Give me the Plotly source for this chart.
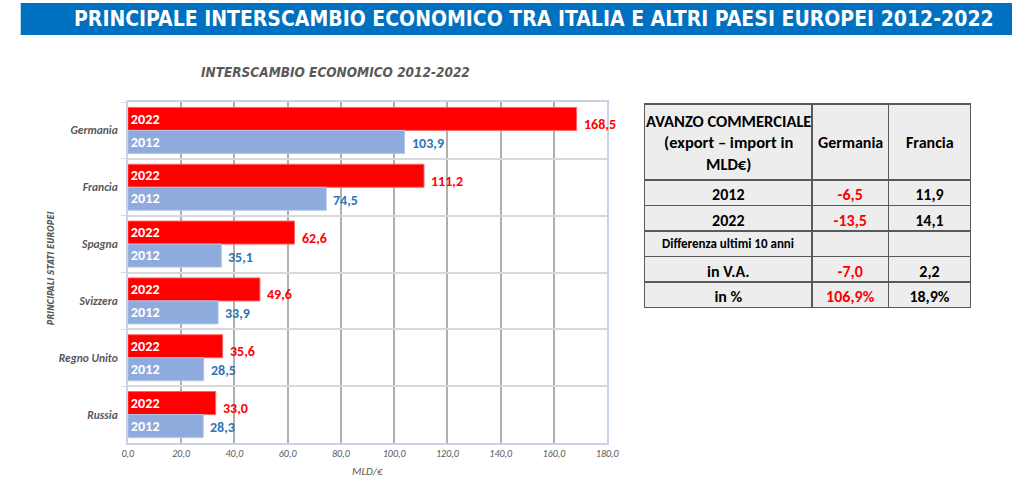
import plotly.graph_objects as go

# dati del grafico (miliardi di euro)
paesi       = ["Germania", "Francia", "Spagna", "Svizzera", "Regno Unito", "Russia"]
valori_2022 = [168.5, 111.2, 62.6, 49.6, 35.6, 33.0]
valori_2012 = [103.9, 74.5, 35.1, 33.9, 28.5, 28.3]
anni        = ["2022", "2012"]
x_ticks     = [0, 20, 40, 60, 80, 100, 120, 140, 160, 180]

# tabella avanzo commerciale
intestazione = ["AVANZO COMMERCIALE<br>(export – import in<br>MLD€)", "Germania", "Francia"]
righe_tab    = ["2012", "2022", "Differenza ultimi 10 anni", "in V.A.", "in %"]
germania_tab = [-6.5, -13.5, None, -7.0, 106.9]
francia_tab  = [11.9, 14.1, None, 2.2, 18.9]
pct_riga     = 4
riga_piccola = 2

NARROW  = "Liberation Sans Narrow, DejaVu Sans Condensed, Arial Narrow, sans-serif"
BODY    = "Carlito, Lato, Open Sans, sans-serif"
ROSSO   = "#FF0000"
AZZURRO = "#8FAADC"
BLU_TXT = "#2E75B6"
GRIGIO  = "#595959"

# geometria tabella (pixel)
TAB_TOP   = 104
HEAD_H    = 76
ROW_H     = 25.5
TAB_X0    = 650
TAB_X1    = 982
COL_W     = [167, 76, 82]


def fmt(v, i):
    if v is None:
        return ""
    s = f"{v:.1f}".replace(".", ",")
    return s + "%" if i == pct_riga else s


fig = go.Figure()

for anno, valori, colore, linea in [
    ("2022", valori_2022, ROSSO,   "#FF6666"),
    ("2012", valori_2012, AZZURRO, "#B4C7E7"),
]:
    fig.add_trace(
        go.Bar(
            y                = paesi,
            x                = valori,
            orientation      = "h",
            name             = anno,
            marker           = {"color": colore, "line": {"color": linea, "width": 1}},
            text             = [anno] * len(paesi),
            textposition     = "inside",
            insidetextanchor = "start",
            textangle        = 0,
            textfont         = {"family": BODY, "size": 15, "color": "white", "weight": "bold"},
            hoverinfo        = "x+name",
        )
    )

# etichette valori fuori dalle barre
for paese, v22, v12 in zip(paesi, valori_2022, valori_2012):
    for v, colore, dy in [(v22, ROSSO, 6), (v12, BLU_TXT, -13)]:
        fig.add_annotation(
            x         = v,
            y         = paese,
            xref      = "x",
            yref      = "y",
            text      = fmt(v, 0),
            showarrow = False,
            xanchor   = "left",
            yanchor   = "middle",
            xshift    = 5,
            yshift    = dy,
            font      = {"family": BODY, "size": 14, "color": colore, "weight": "bold"},
        )

# tabella
colore_germ = [ROSSO] * len(righe_tab)
colore_nero = ["black"] * len(righe_tab)

fig.add_trace(
    go.Table(
        domain      = {
            "x": [TAB_X0 / 1024, TAB_X1 / 1024],
            "y": [0.2, (488 - TAB_TOP) / 488],
        },
        columnwidth = COL_W,
        header      = {
            "values": ["", "", ""],
            "height": HEAD_H,
            "fill":   {"color": "#EDEDED"},
            "line":   {"color": GRIGIO, "width": 1.5},
        },
        cells       = {
            "values": [
                ["" if i == riga_piccola else r for i, r in enumerate(righe_tab)],
                [fmt(v, i) for i, v in enumerate(germania_tab)],
                [fmt(v, i) for i, v in enumerate(francia_tab)],
            ],
            "align":  "center",
            "height": ROW_H,
            "fill":   {"color": "#EDEDED"},
            "line":   {"color": GRIGIO, "width": 1.5},
            "font":   {
                "family": BODY,
                "size":   16,
                "color":  [colore_nero, colore_germ, colore_nero],
                "weight": "bold",
            },
        },
    )
)

# intestazioni e riga "Differenza" centrate riga per riga
scala      = (TAB_X1 - TAB_X0) / sum(COL_W)
centri_col = []
x_cur = TAB_X0
for w in COL_W:
    centri_col.append(x_cur + w * scala / 2)
    x_cur += w * scala

testi_tab = [
    (intestazione[0], centri_col[0], TAB_TOP + HEAD_H / 2, 16.5),
    (intestazione[1], centri_col[1], TAB_TOP + HEAD_H / 2, 16),
    (intestazione[2], centri_col[2], TAB_TOP + HEAD_H / 2, 16),
    (righe_tab[riga_piccola], centri_col[0], TAB_TOP + HEAD_H + (riga_piccola + 0.5) * ROW_H, 13),
]
for testo, x_px, y_px, size in testi_tab:
    fig.add_annotation(
        x         = x_px / 1024,
        y         = (488 - y_px) / 488,
        xref      = "paper",
        yref      = "paper",
        xanchor   = "center",
        yanchor   = "middle",
        align     = "center",
        text      = testo,
        showarrow = False,
        font      = {"family": BODY, "size": size, "color": "black", "weight": "bold"},
    )

# intestazione blu
fig.add_shape(
    type      = "rect",
    xref      = "paper",
    yref      = "paper",
    x0        = 15 / 1024,
    x1        = 1,
    y0        = (488 - 35) / 488,
    y1        = (488 - 3) / 488,
    fillcolor = "#0070C0",
    line      = {"width": 0},
    layer     = "below",
)

for testo, x, y, font, angolo in [
    (
        "PRINCIPALE INTERSCAMBIO ECONOMICO TRA ITALIA E ALTRI PAESI EUROPEI 2012-2022",
        537 / 1024, (488 - 19) / 488,
        {"family": NARROW, "size": 21, "color": "white", "weight": "bold"}, 0,
    ),
    (
        "INTERSCAMBIO ECONOMICO 2012-2022",
        335 / 1024, (488 - 72) / 488,
        {"family": NARROW, "size": 13.5, "color": GRIGIO, "weight": "bold", "style": "italic"}, 0,
    ),
    (
        "PRINCIPALI STATI EUROPEI",
        46 / 1024, (488 - 268) / 488,
        {"family": NARROW, "size": 8.5, "color": GRIGIO, "weight": "bold", "style": "italic"}, -90,
    ),
    (
        "MLD/€",
        368 / 1024, (488 - 471) / 488,
        {"family": BODY, "size": 11, "color": GRIGIO, "style": "italic"}, 0,
    ),
]:
    fig.add_annotation(
        x         = x,
        y         = y,
        xref      = "paper",
        yref      = "paper",
        xanchor   = "center",
        yanchor   = "middle",
        text      = testo,
        showarrow = False,
        textangle = angolo,
        font      = font,
    )

fig.update_layout(
    width         = 1024,
    height        = 488,
    margin        = {"l": 0, "r": 0, "t": 0, "b": 0},
    paper_bgcolor = "white",
    plot_bgcolor  = "white",
    showlegend    = False,
    barmode       = "group",
    bargap        = 0.19,
    bargroupgap   = 0,
    separators    = ",.",
    xaxis         = {
        "domain":     [124 / 1024, 612 / 1024],
        "range":      [0, 180],
        "tickvals":   x_ticks,
        "tickformat": ".1f",
        "showgrid":   True,
        "gridcolor":  "#B0B0B0",
        "gridwidth":  1.5,
        "showline":   True,
        "linecolor":  "#C9D3E6",
        "linewidth":  1.5,
        "mirror":     True,
        "zeroline":   False,
        "tickfont":   {"family": BODY, "size": 10, "color": GRIGIO, "style": "italic"},
        "fixedrange": True,
    },
    yaxis         = {
        "domain":     [(488 - 443) / 488, (488 - 102) / 488],
        "autorange":  "reversed",
        "tickson":    "boundaries",
        "showgrid":   True,
        "gridcolor":  "#D9D9D9",
        "gridwidth":  2,
        "ticks":      "outside",
        "ticklen":    5,
        "tickcolor":  "#D9D9D9",
        "showline":   True,
        "linecolor":  "#C9D3E6",
        "linewidth":  1.5,
        "mirror":     True,
        "tickfont":   {"family": BODY, "size": 11.5, "color": GRIGIO, "weight": "bold", "style": "italic"},
        "ticklabelstandoff": 6,
        "fixedrange": True,
    },
    uniformtext   = {"mode": "show", "minsize": 13},
)

fig.write_html(
    "out.html",
    config      = {"displayModeBar": False},
    post_script = "document.body.style.margin = '0';",
)
